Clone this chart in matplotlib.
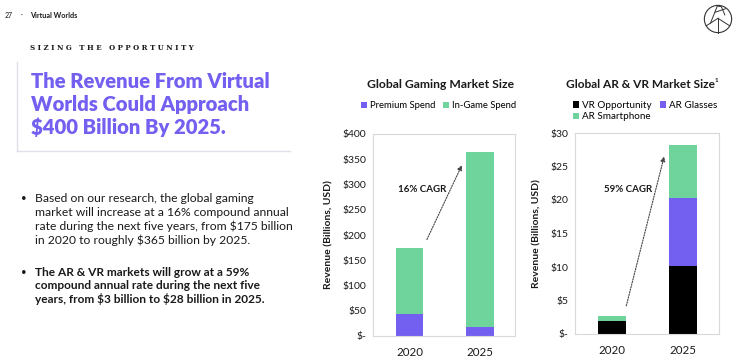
import matplotlib
matplotlib.use("Agg")
import matplotlib.pyplot as plt
from matplotlib.patches import Circle
from matplotlib.lines import Line2D

plt.rcParams["text.parse_math"] = False

# ---------------- data ----------------
years = ["2020", "2025"]
gaming_premium = [44, 18]
gaming_ingame = [131, 347]
arvr_vr = [2.0, 10.2]
arvr_glasses = [0.0, 10.1]
arvr_smartphone = [0.7, 7.9]
gaming_ticks = [0, 50, 100, 150, 200, 250, 300, 350, 400]
gaming_ticklabels = ["$-", "$50", "$100", "$150", "$200", "$250", "$300", "$350", "$400"]
arvr_ticks = [0, 5, 10, 15, 20, 25, 30]
arvr_ticklabels = ["$-", "$5", "$10", "$15", "$20", "$25", "$30"]

PURPLE = "#7360f0"
GREEN = "#6fd49b"
BLACK = "#000000"
TXT = "#1a1a1a"
FONT = "Lato"

W, H = 740, 364
fig = plt.figure(figsize=(W / 100, H / 100), dpi=100)
fig.patch.set_facecolor("white")


def fx(px):
    return px / W


def fy(py):
    return 1 - py / H


# ---------------- header ----------------
fig.text(fx(5), fy(15), "27", fontsize=5, family=FONT, color=TXT, va="center")
fig.text(fx(21), fy(15), "·", fontsize=5, family=FONT, color=TXT, va="center")
fig.text(fx(30), fy(15), "Virtual Worlds", fontsize=5.2, family=FONT, weight="bold", color=TXT, va="center")
fig.text(fx(30), fy(48), " ".join("SIZING THE OPPORTUNITY"),
         fontsize=5.0, family="DejaVu Serif", weight="bold", color=TXT, va="center")

# panel lines
fig.add_artist(Line2D([fx(17), fx(17)], [fy(62), fy(151)], color="#e2dfe8", lw=1.0))
fig.add_artist(Line2D([fx(17), fx(290)], [fy(151), fy(151)], color="#e2dde9", lw=1.0))

# title
for i, line in enumerate(["The Revenue From Virtual", "Worlds Could Approach", "$400 Billion By 2025."]):
    fig.text(fx(31), fy(82 + i * 22.5), line, fontsize=14.6, family=FONT, weight="heavy",
             color=PURPLE, va="center")

# bullets
b1 = ["Based on our research, the global gaming",
      "market will increase at a 16% compound annual",
      "rate during the next five years, from $175 billion",
      "in 2020 to roughly $365 billion by 2025."]
b2 = ["The AR & VR markets will grow at a 59%",
      "compound annual rate during the next five",
      "years, from $3 billion to $28 billion in 2025."]
fig.text(fx(21), fy(199), "•", fontsize=7, family=FONT, color=TXT, va="center")
for i, line in enumerate(b1):
    fig.text(fx(35), fy(199 + i * 13.6), line, fontsize=8.7, family=FONT, color=TXT, va="center")
fig.text(fx(21), fy(272), "•", fontsize=7, family=FONT, color=TXT, va="center")
for i, line in enumerate(b2):
    fig.text(fx(35), fy(272 + i * 13.5), line, fontsize=8.6, family=FONT, weight="bold", color=TXT, va="center")

# logo
logo = fig.add_axes([fx(703), fy(34), fx(30), 30 / H])
logo.set_xlim(-1.1, 1.1)
logo.set_ylim(-1.1, 1.1)
logo.set_aspect("equal")
logo.axis("off")
logo.add_patch(Circle((0, 0), 1, fill=False, lw=0.8, color="#333333"))
logo.plot([0, 0], [-1, 0.05], color="#333333", lw=0.7)
logo.plot([-0.86, 0], [-0.5, 0.05], color="#333333", lw=0.7)
logo.plot([0.86, 0], [-0.5, 0.05], color="#333333", lw=0.7)
logo.plot([-0.55, -0.05, 0.25, 0.5], [-0.3, 0.95, 0.9, 0.3], color="#333333", lw=0.7)
logo.plot([-0.2, 0.55], [0.5, 0.75], color="#333333", lw=0.7)


def style_axes(ax, ticks, labels, ymax):
    ax.set_ylim(0, ymax)
    ax.set_xlim(-0.52, 1.5)
    ax.set_yticks(ticks)
    ax.set_yticklabels(labels, family=FONT, fontsize=7.5, color=TXT)
    ax.set_xticks([0, 1])
    ax.set_xticklabels(years, family=FONT, fontsize=8.3, color=TXT)
    ax.tick_params(length=0, pad=5)
    ax.tick_params(axis="x", pad=8)
    for s in ax.spines.values():
        s.set_color("#d9d9d9")
        s.set_linewidth(0.8)
    ax.set_ylabel("Revenue (Billions, USD)", family=FONT, fontsize=7.5, weight="bold", color=TXT, labelpad=6)


# ---------------- gaming chart ----------------
ax1 = fig.add_axes([fx(373), fy(336), fx(515 - 373), (336 - 134) / H])
x = [0, 1]
bw = 0.39
h1 = ax1.bar(x, gaming_premium, bw, color=PURPLE, label="Premium Spend")
h2 = ax1.bar(x, gaming_ingame, bw, bottom=gaming_premium, color=GREEN, label="In-Game Spend")
style_axes(ax1, gaming_ticks, gaming_ticklabels, 400)
ax1.annotate("", xy=(0.76, 343), xytext=(0.23, 186),
             arrowprops=dict(arrowstyle="-|>", linestyle=(0, (1.2, 1.2)), lw=0.8, color="#444444",
                             mutation_scale=7))
ax1.text(0.18, 291, "16% CAGR", family=FONT, fontsize=7, weight="bold", color=TXT, ha="center", va="center")
fig.text(fx(441), fy(85), "Global Gaming Market Size", family=FONT, fontsize=8.7, weight="bold",
         color=TXT, ha="center", va="center")
fig.legend([h1, h2], ["Premium Spend", "In-Game Spend"], loc="center left",
           bbox_to_anchor=(fx(361), fy(106)), ncol=2, frameon=False,
           prop=dict(family=FONT, size=6.8), handlelength=0.6, handleheight=0.6,
           handletextpad=0.3, columnspacing=0.9, borderaxespad=0, borderpad=0)

# ---------------- AR/VR chart ----------------
ax2 = fig.add_axes([fx(575), fy(334), fx(719 - 575), (334 - 133) / H])
g1 = ax2.bar(x, arvr_vr, bw, color=BLACK, label="VR Opportunity")
bottom2 = [a + b for a, b in zip(arvr_vr, arvr_glasses)]
g2 = ax2.bar(x, arvr_glasses, bw, bottom=arvr_vr, color=PURPLE, label="AR Glasses")
g3 = ax2.bar(x, arvr_smartphone, bw, bottom=bottom2, color=GREEN, label="AR Smartphone")
style_axes(ax2, arvr_ticks, arvr_ticklabels, 30)
ax2.annotate("", xy=(0.74, 26.9), xytext=(0.19, 3.8),
             arrowprops=dict(arrowstyle="-|>", linestyle=(0, (1.2, 1.2)), lw=0.8, color="#444444",
                             mutation_scale=7))
ax2.text(0.22, 21.6, "59% CAGR", family=FONT, fontsize=7, weight="bold", color=TXT, ha="center", va="center")
t_ar = fig.text(fx(715), fy(85), "Global AR & VR Market Size", family=FONT, fontsize=8.6, weight="bold",
                color=TXT, ha="right", va="center")
fig.text(fx(714.8), fy(80), "1", family=FONT, fontsize=4.5, weight="bold", color=TXT, ha="left", va="center")
fig.legend([g1, g3, g2], ["VR Opportunity", "AR Smartphone", "AR Glasses"], loc="upper left",
           bbox_to_anchor=(fx(573), fy(101)), ncol=2, frameon=False,
           prop=dict(family=FONT, size=7.1), handlelength=0.6, handleheight=0.6,
           handletextpad=0.3, columnspacing=0.9, borderaxespad=0, borderpad=0, labelspacing=0.25)

fig.savefig("out.png", dpi=100, facecolor="white")
